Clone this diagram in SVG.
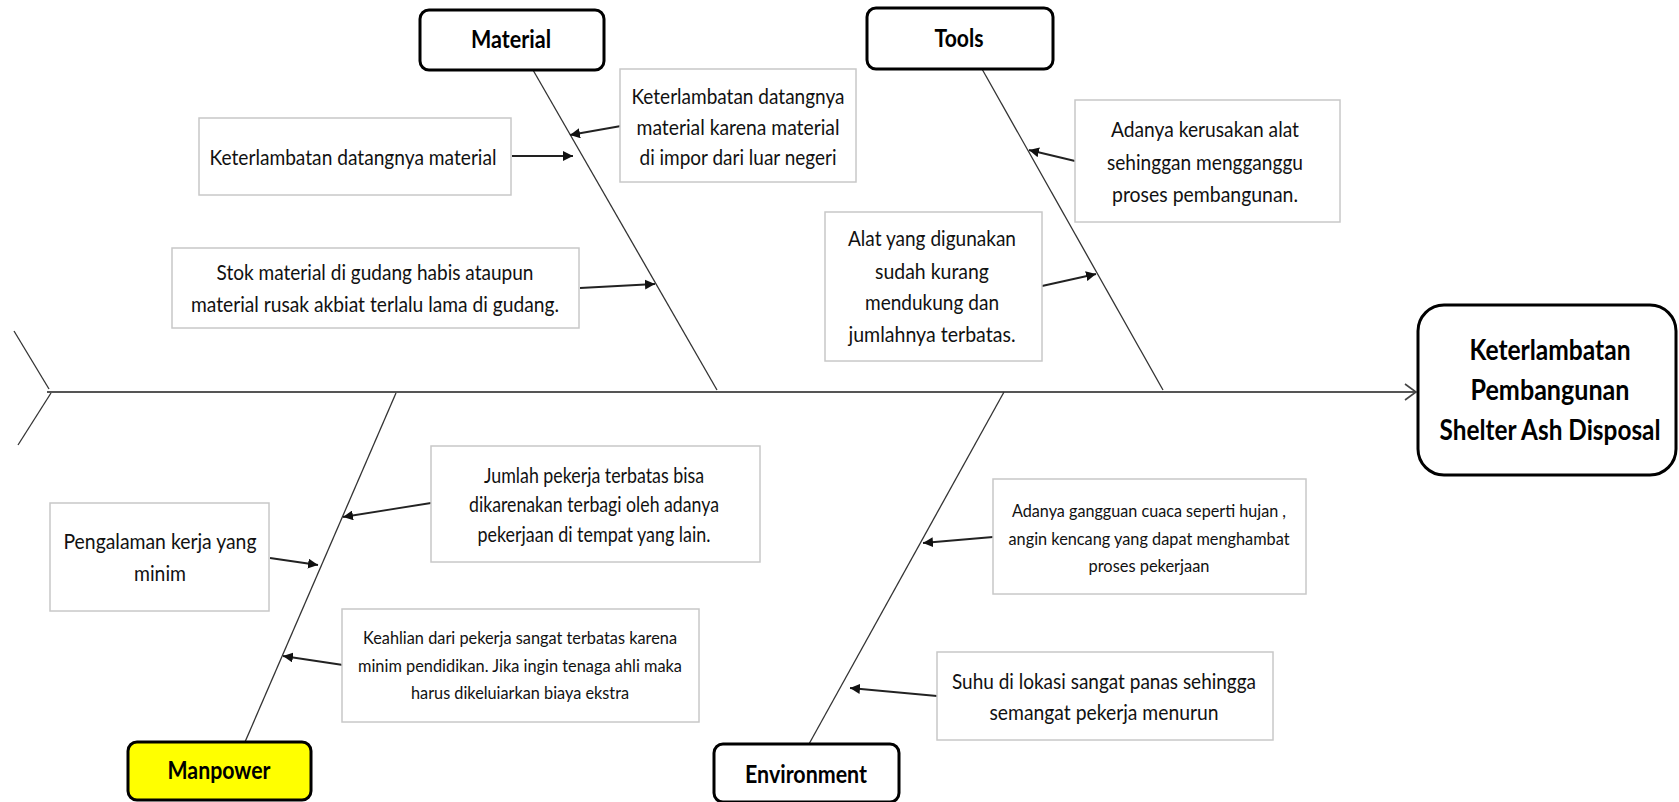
<svg xmlns="http://www.w3.org/2000/svg" width="1679" height="802" viewBox="0 0 1679 802">
<defs>
<style>
.bg{fill:#ffffff}
.cat{fill:#ffffff;stroke:#000;stroke-width:3}
.mp{fill:#ffff00}
.box{fill:#ffffff;stroke:#c8c8c8;stroke-width:1.5}
.t{font-family:Lato,"Liberation Sans",sans-serif;font-size:22px;fill:#111;text-anchor:middle}
.s{font-size:17px}
.m{font-size:21px}
.b{font-family:Lato,"Liberation Sans",sans-serif;font-weight:bold;font-size:24px;fill:#000;text-anchor:middle}
.e{font-size:29px}
.spine{stroke:#333;stroke-width:1.3;fill:none}
.main{stroke:#555;stroke-width:2;fill:none}
.arr{stroke:#222;stroke-width:1.8;fill:none;marker-end:url(#ah)}
</style>
<marker id="ah" markerUnits="userSpaceOnUse" markerWidth="12" markerHeight="10" refX="10" refY="5" orient="auto">
<path d="M0,0 L10,5 L0,10 Z" fill="#111"/>
</marker>
<marker id="oh" markerUnits="userSpaceOnUse" markerWidth="14" markerHeight="18" refX="12" refY="9" orient="auto">
<path d="M1,1 L12,9 L1,17" fill="none" stroke="#444" stroke-width="1.6"/>
</marker>
</defs>
<rect class="bg" x="0" y="0" width="1679" height="802"/>

<g id="connectors">
<path class="spine" d="M14,331 L49,389"/>
<path class="spine" d="M51,393 L18,445"/>
<path class="main" d="M47,392 L1416,392" marker-end="url(#oh)"/>
<path class="spine" d="M533,70 L717,390"/>
<path class="spine" d="M982,69 L1163,390"/>
<path class="spine" d="M396,393 L245,742"/>
<path class="spine" d="M1004,392 L809,744"/>
<path class="arr" d="M512,156 L573,156"/>
<path class="arr" d="M621,126 L570,135"/>
<path class="arr" d="M580,288 L655,284"/>
<path class="arr" d="M1075,161 L1029,150"/>
<path class="arr" d="M1042,286 L1096,274"/>
<path class="arr" d="M431,503 L343,517"/>
<path class="arr" d="M270,558 L318,565"/>
<path class="arr" d="M343,665 L283,656"/>
<path class="arr" d="M993,537 L923,543"/>
<path class="arr" d="M937,696 L850,688"/>
</g>

<g id="material">
<rect class="cat" x="420" y="10" width="184" height="60" rx="9"/>
<text class="b" x="511" y="48" textLength="80" lengthAdjust="spacingAndGlyphs">Material</text>
</g>
<g id="tools">
<rect class="cat" x="867" y="8" width="186" height="61" rx="9"/>
<text class="b" x="959" y="47" textLength="49" lengthAdjust="spacingAndGlyphs">Tools</text>
</g>
<g id="manpower">
<rect class="cat mp" x="128" y="742" width="183" height="58" rx="9"/>
<text class="b" x="219" y="779" textLength="103" lengthAdjust="spacingAndGlyphs">Manpower</text>
</g>
<g id="environment">
<rect class="cat" x="714" y="744" width="185" height="58" rx="9"/>
<text class="b" x="806" y="783" textLength="122" lengthAdjust="spacingAndGlyphs">Environment</text>
</g>
<g id="effect">
<rect class="cat" x="1418" y="305" width="258" height="170" rx="26"/>
<text class="b e" x="1550" y="360" textLength="161" lengthAdjust="spacingAndGlyphs">Keterlambatan</text>
<text class="b e" x="1550" y="400" textLength="159" lengthAdjust="spacingAndGlyphs">Pembangunan</text>
<text class="b e" x="1550" y="440" textLength="221" lengthAdjust="spacingAndGlyphs">Shelter Ash Disposal</text>
</g>

<g id="c-material-1">
<rect class="box" x="199" y="118" width="312" height="77"/>
<text class="t" x="353" y="165" textLength="287" lengthAdjust="spacingAndGlyphs">Keterlambatan datangnya material</text>
</g>
<g id="c-material-2">
<rect class="box" x="620" y="69" width="236" height="113"/>
<text class="t" x="738" y="104" textLength="213" lengthAdjust="spacingAndGlyphs">Keterlambatan datangnya</text>
<text class="t" x="738" y="135" textLength="203" lengthAdjust="spacingAndGlyphs">material karena material</text>
<text class="t" x="738" y="165" textLength="197" lengthAdjust="spacingAndGlyphs">di impor dari luar negeri</text>
</g>
<g id="c-material-3">
<rect class="box" x="172" y="248" width="407" height="80"/>
<text class="t" x="375" y="280" textLength="317" lengthAdjust="spacingAndGlyphs">Stok material di gudang habis ataupun</text>
<text class="t" x="375" y="312" textLength="368" lengthAdjust="spacingAndGlyphs">material rusak akbiat terlalu lama di gudang.</text>
</g>
<g id="c-tools-1">
<rect class="box" x="1075" y="100" width="265" height="122"/>
<text class="t" x="1205" y="137" textLength="188" lengthAdjust="spacingAndGlyphs">Adanya kerusakan alat</text>
<text class="t" x="1205" y="170" textLength="196" lengthAdjust="spacingAndGlyphs">sehinggan mengganggu</text>
<text class="t" x="1205" y="202" textLength="186" lengthAdjust="spacingAndGlyphs">proses pembangunan.</text>
</g>
<g id="c-tools-2">
<rect class="box" x="825" y="212" width="217" height="149"/>
<text class="t" x="932" y="246" textLength="168" lengthAdjust="spacingAndGlyphs">Alat yang digunakan</text>
<text class="t" x="932" y="279" textLength="114" lengthAdjust="spacingAndGlyphs">sudah kurang</text>
<text class="t" x="932" y="310" textLength="134" lengthAdjust="spacingAndGlyphs">mendukung dan</text>
<text class="t" x="932" y="342" textLength="167" lengthAdjust="spacingAndGlyphs">jumlahnya terbatas.</text>
</g>
<g id="c-manpower-1">
<rect class="box" x="50" y="503" width="219" height="108"/>
<text class="t" x="160" y="549" textLength="193" lengthAdjust="spacingAndGlyphs">Pengalaman kerja yang</text>
<text class="t" x="160" y="581" textLength="52" lengthAdjust="spacingAndGlyphs">minim</text>
</g>
<g id="c-manpower-2">
<rect class="box" x="431" y="446" width="329" height="116"/>
<text class="t m" x="594" y="483" textLength="220" lengthAdjust="spacingAndGlyphs">Jumlah pekerja terbatas bisa</text>
<text class="t m" x="594" y="512" textLength="250" lengthAdjust="spacingAndGlyphs">dikarenakan terbagi oleh adanya</text>
<text class="t m" x="594" y="542" textLength="233" lengthAdjust="spacingAndGlyphs">pekerjaan di tempat yang lain.</text>
</g>
<g id="c-manpower-3">
<rect class="box" x="342" y="609" width="357" height="113"/>
<text class="t s" x="520" y="644" textLength="314" lengthAdjust="spacingAndGlyphs">Keahlian dari pekerja sangat terbatas karena</text>
<text class="t s" x="520" y="672" textLength="324" lengthAdjust="spacingAndGlyphs">minim pendidikan. Jika ingin tenaga ahli maka</text>
<text class="t s" x="520" y="699" textLength="218" lengthAdjust="spacingAndGlyphs">harus dikeluiarkan biaya ekstra</text>
</g>
<g id="c-environment-1">
<rect class="box" x="993" y="479" width="313" height="115"/>
<text class="t s" x="1149" y="517" textLength="274" lengthAdjust="spacingAndGlyphs">Adanya gangguan cuaca seperti hujan ,</text>
<text class="t s" x="1149" y="545" textLength="281" lengthAdjust="spacingAndGlyphs">angin kencang yang dapat menghambat</text>
<text class="t s" x="1149" y="572" textLength="121" lengthAdjust="spacingAndGlyphs">proses pekerjaan</text>
</g>
<g id="c-environment-2">
<rect class="box" x="937" y="652" width="336" height="88"/>
<text class="t" x="1104" y="689" textLength="304" lengthAdjust="spacingAndGlyphs">Suhu di lokasi sangat panas sehingga</text>
<text class="t" x="1104" y="720" textLength="229" lengthAdjust="spacingAndGlyphs">semangat pekerja menurun</text>
</g>
</svg>
